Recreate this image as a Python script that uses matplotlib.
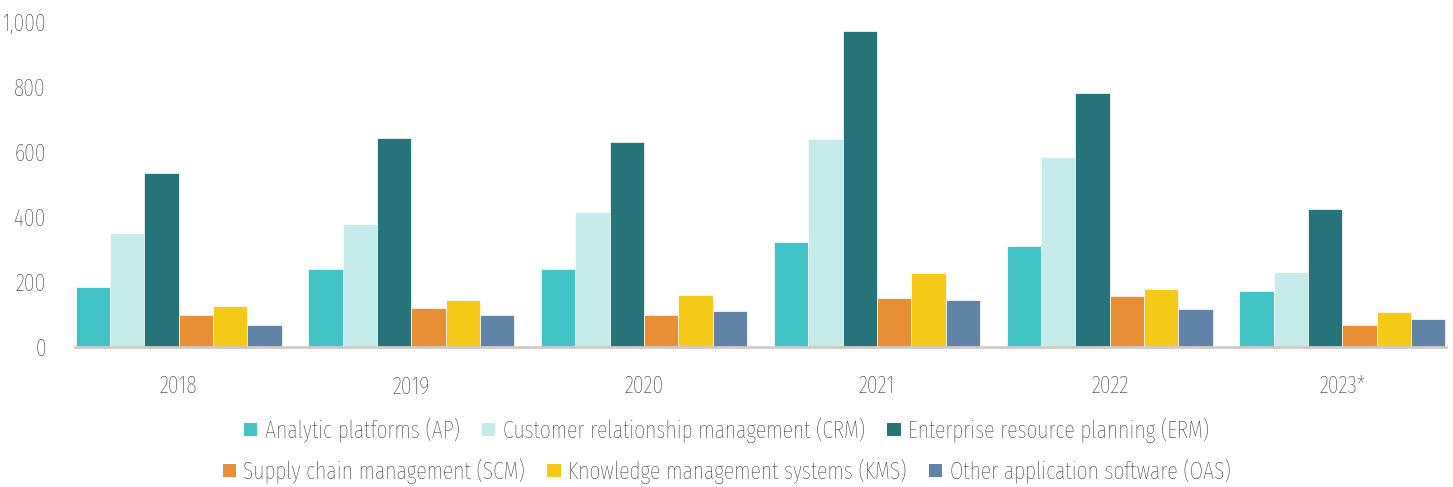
import matplotlib
matplotlib.use("Agg")
import matplotlib.pyplot as plt
import numpy as np
from matplotlib.patches import Patch
from matplotlib.ticker import FuncFormatter

years = ["2018", "2019", "2020", "2021", "2022", "2023*"]
series_names = [
    "Analytic platforms (AP)",
    "Customer relationship management (CRM)",
    "Enterprise resource planning (ERM)",
    "Supply chain management (SCM)",
    "Knowledge management systems (KMS)",
    "Other application software (OAS)",
]
ap = [184, 239, 239, 323, 311, 171]
crm = [352, 379, 415, 640, 584, 231]
erm = [535, 643, 632, 972, 781, 424]
scm = [99, 119, 98, 151, 156, 67]
kms = [127, 144, 159, 227, 179, 107]
oas = [68, 98, 111, 144, 116, 87]
values = [ap, crm, erm, scm, kms, oas]
colors = ["#41c3c8", "#c5ecea", "#26737a", "#e88f35", "#f5c917", "#6084a8"]

FONT = "Fira Sans Extra Condensed"
plt.rcParams["font.family"] = [FONT, "DejaVu Sans"]
plt.rcParams["font.weight"] = "light"
TXT = "#1e1e1e"

fig = plt.figure(figsize=(14.53, 4.87), dpi=100)
ax = fig.add_axes([75 / 1453, 1 - 347 / 487, (1446 - 75) / 1453, (347 - 22) / 487])

x = np.arange(len(years))
n = len(values)
w = 0.885 / n
for i, (vals, c) in enumerate(zip(values, colors)):
    ax.bar(x + (i - (n - 1) / 2) * w, vals, width=w, color=c,
           edgecolor="white", linewidth=0.5, zorder=2)

ax.set_xlim(-0.445, len(years) - 1 + 0.445)
ax.set_ylim(0, 1000)
ax.set_yticks([0, 200, 400, 600, 800, 1000])
ax.yaxis.set_major_formatter(FuncFormatter(lambda v, p: f"{int(v):,}"))
ax.set_xticks(x)
ax.set_xticklabels(years)
ax.tick_params(axis="y", length=0, pad=21, labelsize=17, labelcolor=TXT)
ax.tick_params(axis="x", length=0, pad=20, labelsize=17, labelcolor=TXT)
for s in ["top", "right", "left"]:
    ax.spines[s].set_visible(False)
ax.spines["bottom"].set_color("#cfcac5")
ax.spines["bottom"].set_linewidth(2)
ax.spines["bottom"].set_zorder(3)

handles = [Patch(facecolor=c, edgecolor="none", label=l) for c, l in zip(colors, series_names)]
common = dict(loc="center", ncol=3, frameon=False, fontsize=17, handlelength=0.57,
              handleheight=0.5, handletextpad=0.3, columnspacing=0.95, labelcolor=TXT,
              borderpad=0, borderaxespad=0)
leg1 = fig.legend(handles=handles[:3], bbox_to_anchor=(0.5, 1 - 430 / 487), **common)
leg2 = fig.legend(handles=handles[3:], bbox_to_anchor=(0.5, 1 - 471 / 487), **common)

fig.savefig("out.png", dpi=100)
